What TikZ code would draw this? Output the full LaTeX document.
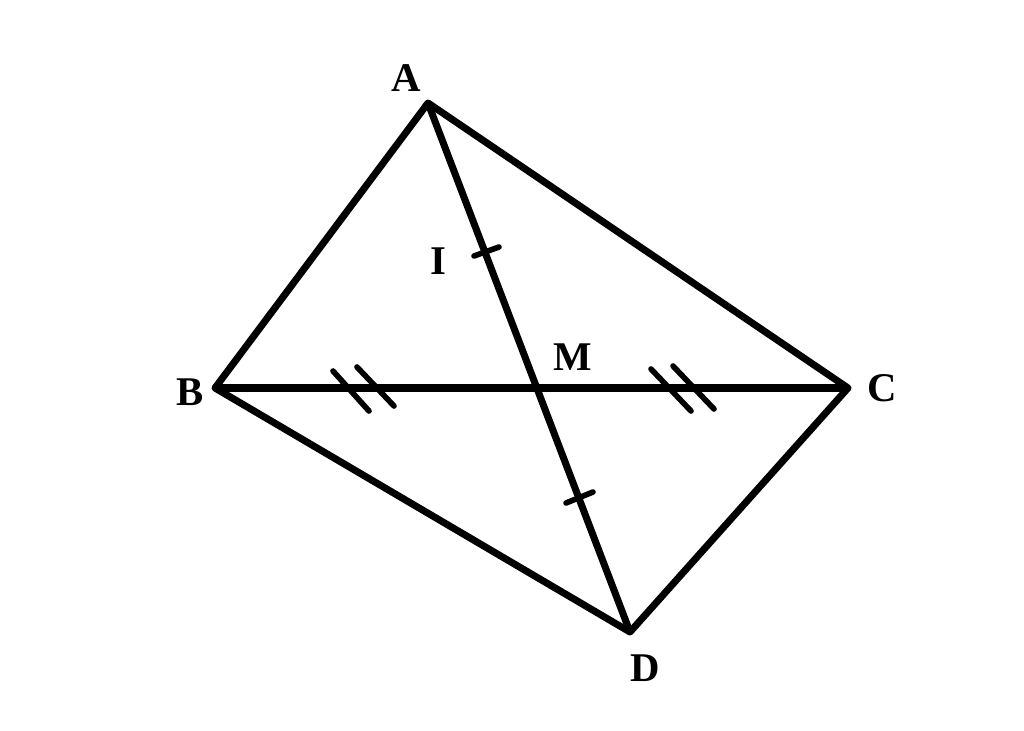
\documentclass[tikz,border=0pt]{standalone}
\usepackage{fontspec}
\setmainfont{Liberation Serif}
\usepackage{amsmath,amssymb}

\begin{document}
\begin{tikzpicture}[x=0.025cm,y=-0.025cm,line width=5pt,line join=round,
	lbl/.style={font=\fontsize{29}{32}\selectfont\bfseries}]
	\useasboundingbox (0,0) rectangle (1024,730);
	\coordinate (A) at (428, 103);
	\coordinate (B) at (215, 388);
	\coordinate (C) at (848, 388);
	\coordinate (D) at (630, 632);
	\coordinate (M) at (538, 388);
	\node[lbl] (a) at (406, 78) {A};
	\node[lbl] (b) at (190, 392) {B};
	\node[lbl] (c) at (882, 388) {C};
	\node[lbl] (d) at (645, 668) {D};
	\node[lbl] (m) at (573, 357) {M};
	\node[lbl] (i) at (438, 261) {I};
	\draw (A) -- (B) -- (D) -- (C) -- cycle;
	\draw (A) -- (D);
	\draw (B) -- (C);
	% ticks
	\draw[line width=4pt,line cap=round] (474, 256) -- (499, 247);
	\draw[line width=4pt,line cap=round] (566, 503) -- (593, 492);
	\draw[line width=4pt,line cap=round] (333, 371) -- (369, 411);
	\draw[line width=4pt,line cap=round] (357, 367) -- (394, 406);
	\draw[line width=4pt,line cap=round] (651, 369) -- (691, 411);
	\draw[line width=4pt,line cap=round] (673, 366) -- (714, 409);
\end{tikzpicture}
\end{document}
